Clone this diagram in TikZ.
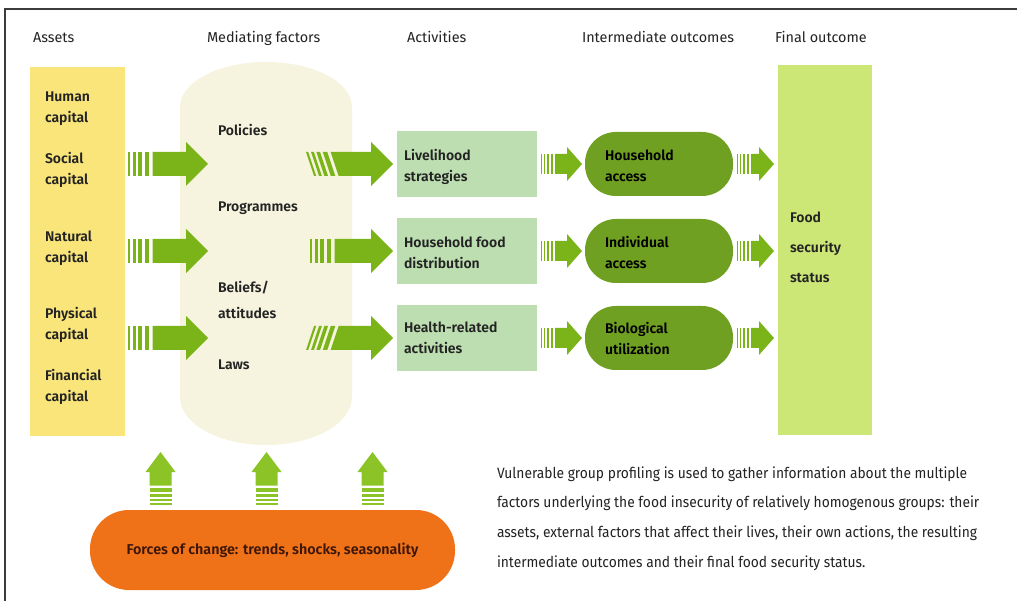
\documentclass[tikz,border=0pt]{standalone}
\usepackage{fontspec}
\setmainfont{Fira Sans}[BoldFont={Fira Sans SemiBold}]
\usetikzlibrary{calc}

\definecolor{assetyellow}{RGB}{249,229,122}
\definecolor{cream}{RGB}{246,244,222}
\definecolor{actgreen}{RGB}{188,222,176}
\definecolor{midgreen}{RGB}{112,160,34}
\definecolor{finalgreen}{RGB}{205,231,118}
\definecolor{arrowgreen}{RGB}{122,180,24}
\definecolor{upgreen}{RGB}{140,196,40}
\definecolor{forceorange}{RGB}{240,114,24}
\definecolor{forceink}{RGB}{60,22,8}
\definecolor{framegray}{RGB}{60,60,60}
\definecolor{inkgray}{RGB}{35,35,35}

\tikzset{
  every node/.style={inner sep=0pt, outer sep=0pt},
  head/.style={anchor=base west, font=\fontsize{14.4}{17}\selectfont, text=inkgray},
  lbl/.style={anchor=west, align=left, font=\fontsize{14}{21}\selectfont\bfseries, text=inkgray},
  arrowfill/.style={fill=arrowgreen},
  % striped block arrow: #1 length, #2 body half-height, #3 head half-height,
  % #4 head length, #5 striped length, #6 slant of the stripes
  pics/stripearrow/.style n args={6}{code={%
    \fill[arrowfill] ({0.88*#5+(#6)},{-#2}) -- ({#1-#4},{-#2}) -- ({#1-#4},{-#3}) -- (#1,0)
      -- ({#1-#4},#3) -- ({#1-#4},#2) -- ({0.88*#5-(#6)},#2) -- cycle;
    \foreach \sa/\sb in {0/0.08,0.18/0.28,0.37/0.5,0.6/0.76}{%
      \fill[arrowfill] ({\sa*#5+(#6)},{-#2}) -- ({\sb*#5+(#6)},{-#2})
        -- ({\sb*#5-(#6)},#2) -- ({\sa*#5-(#6)},#2) -- cycle;
    }
  }},
}

\begin{document}
\begin{tikzpicture}[x=1pt,y=-1pt]
\useasboundingbox (0,0) rectangle (1017,601);
\fill[white] (0,0) rectangle (1017,601);

% frame
\draw[framegray, line width=1.6pt] (5,601) -- (5,9) -- (1017,9);

% row heights
\coordinate (r1) at (0,164);
\coordinate (r2) at (0,251);
\coordinate (r3) at (0,338);

% column headings
\node[head] (hassets) at (33,43) {Assets};
\node[head] (hmed) at (207,43) {Mediating factors};
\node[head] (hact) at (407,43) {Activities};
\node[head] (hint) at (582,43) {Intermediate outcomes};
\node[head] (hfinal) at (775,43) {Final outcome};

% mediating factors backdrop
\fill[cream] (180,107) -- (180,397) arc[start angle=180, end angle=0, x radius=86, y radius=48]
  -- (352,107) arc[start angle=0, end angle=-180, x radius=86, y radius=45] -- cycle;
\node[minimum width=172, minimum height=383] (med) at (266,253.5) {};

% assets
\node[fill=assetyellow, minimum width=95, minimum height=369, anchor=north west] (assets) at (30,67) {};
\node[lbl] (human) at (45,108.5) {Human\\capital};
\node[lbl] (social) at (45,170) {Social\\capital};
\node[lbl] (natural) at (45,248) {Natural\\capital};
\node[lbl] (physical) at (45,324.5) {Physical\\capital};
\node[lbl] (financial) at (45,386.5) {Financial\\capital};

% mediating factors
\node[lbl] (policies) at (218,130) {Policies};
\node[lbl] (programmes) at (218,208) {Programmes};
\node[lbl, font=\fontsize{14}{26}\selectfont\bfseries] (beliefs) at (218,300) {Beliefs/\\attitudes};
\node[lbl] (laws) at (218,365) {Laws};

% activities
\foreach \n/\r in {act1/r1,act2/r2,act3/r3}{
  \node[fill=actgreen, minimum width=140, minimum height=66, anchor=west] (\n) at (397,0 |- \r) {};
}
\node[lbl] (actl1) at ($(act1.west)+(7,2.5)$) {Livelihood\\strategies};
\node[lbl] (actl2) at ($(act2.west)+(7,1.5)$) {Household food\\distribution};
\node[lbl] (actl3) at ($(act3.west)+(7,0)$) {Health-related\\activities};

% intermediate outcomes
\foreach \n/\r in {int1/r1,int2/r2,int3/r3}{
  \node[fill=midgreen, rounded corners=31, minimum width=148, minimum height=64, anchor=west] (\n) at (585,0 |- \r) {};
}
\node[lbl, text=black] (intl1) at ($(int1.west)+(20,1.5)$) {Household\\access};
\node[lbl, text=black] (intl2) at ($(int2.west)+(20,1)$) {Individual\\access};
\node[lbl, text=black] (intl3) at ($(int3.west)+(20,0)$) {Biological\\utilization};

% final outcome
\node[fill=finalgreen, minimum width=94, minimum height=370, anchor=north west] (final) at (778,65) {};
\node[lbl, font=\fontsize{14}{30}\selectfont\bfseries] (finall) at (790,247) {Food\\security\\status};

% assets -> mediating factors
\foreach \r in {r1,r2,r3}{
  \pic at ($(assets.east |- \r)+(3,0)$) {stripearrow={80}{12}{22}{22}{28}{0}};
}
% mediating factors -> activities
\pic at ($(act1.west)+(-87,0)$) {stripearrow={83}{12}{22}{22}{28}{-4}};
\pic at ($(act2.west)+(-87,0)$) {stripearrow={83}{12}{22}{22}{28}{0}};
\pic at ($(act3.west)+(-87,0)$) {stripearrow={83}{12}{22}{22}{28}{4}};
% activities -> intermediate outcomes
\foreach \n in {act1,act2,act3}{
  \pic at ($(\n.east)+(4,0)$) {stripearrow={41}{10}{17}{15}{16}{0}};
}
% intermediate outcomes -> final outcome
\foreach \n in {int1,int2,int3}{
  \pic at ($(\n.east)+(4,0)$) {stripearrow={37}{10}{17}{15}{16}{0}};
}

% forces of change
\node[fill=forceorange, rounded corners=39, minimum width=365, minimum height=80, anchor=north west,
      font=\fontsize{14.3}{17}\selectfont\bfseries, text=forceink] (forces) at (90,510)
      {Forces of change: trends, shocks, seasonality};
\foreach \dx in {-112,-6,100}{
  \pic[rotate=90, arrowfill/.style={fill=upgreen}] at ($(forces.north)+(\dx,-5)$)
    {stripearrow={53}{11}{15}{20}{22}{0}};
}

% explanatory note
\node[anchor=west, align=left, text=inkgray,
      font=\addfontfeature{FakeStretch=0.92}\fontsize{15}{29.7}\selectfont] (note) at (497,518.5)
  {Vulnerable group profiling is used to gather information about the multiple\\
   factors underlying the food insecurity of relatively homogenous groups: their\\
   assets, external factors that affect their lives, their own actions, the resulting\\
   intermediate outcomes and their final food security status.};
\end{tikzpicture}
\end{document}
